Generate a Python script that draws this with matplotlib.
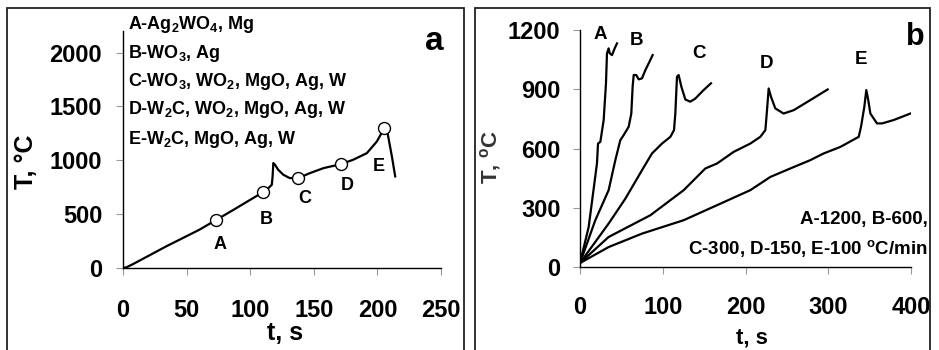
import matplotlib.pyplot as plt
from matplotlib.patches import Rectangle

plt.rcParams['font.family'] = ['Liberation Sans', 'DejaVu Sans']
plt.rcParams['font.weight'] = 'bold'
plt.rcParams['axes.labelweight'] = 'bold'
plt.rcParams['mathtext.fontset'] = 'custom'
plt.rcParams['mathtext.rm'] = 'Liberation Sans:bold'
plt.rcParams['mathtext.default'] = 'rm'

# panel a: heating curve with sampled points
a_t = [0, 3, 8, 34, 60, 73.5, 87, 109.8, 113, 117, 117.6, 118.2, 119.5, 122, 126,
       131, 137.9, 147, 157.6, 171.2, 181, 191.7, 199.6, 205.4, 208, 211.4, 214]
a_T = [0, 8, 37, 201, 355, 448, 541, 702, 726, 773, 850, 974, 958, 912, 866,
       835, 835, 881, 927, 964, 1005, 1066, 1175, 1298, 1252, 1035, 850]
pt_names = ['A', 'B', 'C', 'D', 'E']
pt_t = [73.5, 109.8, 137.9, 171.2, 205.4]
pt_T = [448, 702, 835, 964, 1298]
pt_lbl_t = [76, 113, 143, 176, 201]
pt_lbl_T = [216, 448, 649, 763, 943]
phases = ['A-Ag$_2$WO$_4$, Mg', 'B-WO$_3$, Ag', 'C-WO$_3$, WO$_2$, MgO, Ag, W',
          'D-W$_2$C, WO$_2$, MgO, Ag, W', 'E-W$_2$C, MgO, Ag, W']
phase_T = [2256, 1994, 1730, 1469, 1196]

# panel b: curves at different heating rates
A_t = [0, 10.5, 20.5, 21.8, 24.6, 28.6, 31.4, 32.6, 34.6, 35.9, 38.7, 41.9, 44.7]
A_T = [20, 203, 524, 625, 634, 744, 930, 1082, 1107, 1082, 1073, 1107, 1132]
B_t = [0, 18.5, 34.6, 42.7, 48.7, 52.8, 58.8, 62, 63.6, 64.9, 68, 70.9, 74.9, 79, 83, 87.8]
B_T = [20, 237, 389, 541, 642, 668, 710, 777, 913, 972, 972, 950, 955, 997, 1031, 1073]
C_t = [0, 34.6, 54.8, 74.9, 87, 99.1, 109.2, 113.6, 115.2, 117.2, 119.2, 122.5, 127.3,
       133.3, 139.4, 149.4, 158.3]
C_T = [20, 220, 346, 490, 575, 625, 659, 693, 777, 963, 972, 913, 848, 837, 853, 896, 930]
D_t = [0, 34.6, 85, 125.3, 151.5, 165.6, 185.7, 205.8, 217.9, 224, 226, 228, 230.8,
       236, 246, 258.2, 278.3, 299.3]
D_T = [20, 152, 262, 389, 499, 524, 583, 625, 659, 693, 794, 904, 862, 803, 777, 794, 845, 899]
E_t = [0, 34.6, 74.9, 125.3, 165.6, 205.8, 230, 254.2, 278.3, 294.5, 314.6, 336.8, 339.6,
       343.6, 346, 348, 350.9, 358.9, 365, 379, 399.2]
E_T = [20, 101, 169, 237, 313, 389, 456, 499, 541, 575, 608, 659, 710, 811, 896, 853,
       777, 727, 727, 744, 777]
curve_t = [A_t, B_t, C_t, D_t, E_t]
curve_T = [A_T, B_T, C_T, D_T, E_T]
curve_lbl_t = [24.6, 67.7, 143.4, 225.2, 339.6]
curve_lbl_T = [1175, 1149, 1082, 1031, 1051]

fig = plt.figure(figsize=(9.39, 3.5), dpi=100)

# frames around each panel
fig.patches.append(Rectangle((7 / 939, -0.01), 457 / 939, 1 - 8 / 350 + 0.01, transform=fig.transFigure,
                             fill=False, edgecolor='#222222', lw=1.3))
fig.patches.append(Rectangle((475 / 939, -0.01), 455 / 939, 1 - 8 / 350 + 0.01, transform=fig.transFigure,
                             fill=False, edgecolor='#222222', lw=1.3))

ax1 = fig.add_axes([123 / 939, 1 - 268 / 350, 318 / 939, 237 / 350])
ax1.plot(a_t, a_T, color='black', lw=1.6)
ax1.plot(pt_t, pt_T, 'o', ms=8.6, mfc='white', mec='black', mew=1.0)
for n, x, y in zip(pt_names, pt_lbl_t, pt_lbl_T):
    ax1.text(x, y, n, fontsize=13, ha='center', va='center')
for s, y in zip(phases, phase_T):
    ax1.text(4, y, s, fontsize=13, ha='left', va='center')
ax1.text(245, 2100, 'a', fontsize=24, ha='center', va='center')
ax1.set_xlim(0, 250)
ax1.set_ylim(0, 2200)
ax1.set_xticks([0, 50, 100, 150, 200, 250])
ax1.set_yticks([0, 500, 1000, 1500, 2000])
ax1.tick_params(axis='x', length=5, pad=17, color='#999999', labelsize=17)
ax1.tick_params(axis='y', length=5, pad=10, color='#999999', labelsize=17)
ax1.set_xlabel('t, s', fontsize=18)
ax1.set_ylabel('T, °C', fontsize=18)
ax1.xaxis.set_label_coords(0.51, -0.225)
ax1.yaxis.set_label_coords(-0.267, 0.447)

ax2 = fig.add_axes([580 / 939, 1 - 267 / 350, 331 / 939, 237 / 350])
for xs, ys in zip(curve_t, curve_T):
    ax2.plot(xs, ys, color='black', lw=1.6)
for n, x, y in zip(pt_names, curve_lbl_t, curve_lbl_T):
    ax2.text(x, y, n, fontsize=13.5, ha='center', va='center')
ax2.text(405, 1166, 'b', fontsize=22, ha='center', va='center')
ax2.text(1.05, 0.2, 'A-1200, B-600,', transform=ax2.transAxes, fontsize=13.5, ha='right', va='center')
ax2.text(1.05, 0.078, 'C-300, D-150, E-100 $^o$C/min', transform=ax2.transAxes,
         fontsize=13.5, ha='right', va='center')
ax2.set_xlim(0, 400)
ax2.set_ylim(0, 1200)
ax2.set_xticks([0, 100, 200, 300, 400])
ax2.set_yticks([0, 300, 600, 900, 1200])
ax2.tick_params(axis='x', length=5, pad=16, color='#999999', labelsize=17)
ax2.tick_params(axis='y', length=5, pad=9, color='#999999', labelsize=17)
ax2.set_xlabel('t, s', fontsize=16)
ax2.set_ylabel('T, $^o$C', fontsize=16, color='#333333')
ax2.xaxis.set_label_coords(0.52, -0.255)
ax2.yaxis.set_label_coords(-0.233, 0.464)

for ax in (ax1, ax2):
    ax.spines['top'].set_visible(False)
    ax.spines['right'].set_visible(False)
    ax.spines['left'].set_linewidth(1.0)
    ax.spines['bottom'].set_linewidth(1.0)

fig.savefig('out.png', dpi=100)
